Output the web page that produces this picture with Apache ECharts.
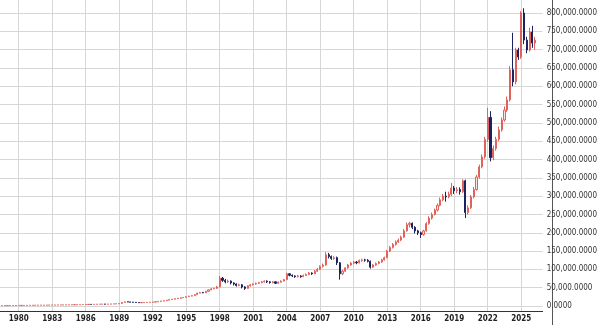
<!DOCTYPE html>
<html>
<head>
<meta charset="utf-8">
<script src="https://cdn.jsdelivr.net/npm/echarts@6/dist/echarts.min.js"></script>
<style>
html,body{margin:0;padding:0;background:#fff;}
#c{width:600px;height:325px;}
</style>
</head>
<body>
<div id="c"></div>
<script>
// Quarterly candles: first quarter and count
const startYear = 1978, startQuarter = 3;
// rows: [open, close, low, high]
const ohlc = [
[900,1000,800,1100],[1000,1100,950,1200],
[1100,1200,1050,1300],[1200,1300,1150,1400],[1300,1350,1250,1450],[1350,1450,1300,1550],
[1450,1550,1400,1650],[1550,1650,1500,1750],[1650,1700,1600,1800],[1700,1800,1650,1900],
[1800,1900,1750,2000],[1900,1950,1850,2050],[1950,2050,1900,2150],[2050,2100,2000,2200],
[2100,2200,2050,2300],[2200,2300,2150,2400],[2300,2400,2250,2500],[2400,2500,2350,2600],
[2500,2600,2450,2700],[2600,2700,2550,2800],[2700,2800,2650,2900],[2800,2900,2750,3000],
[2900,3000,2850,3100],[3000,3150,2950,3250],[3150,3300,3100,3400],[3300,3400,3250,3500],
[3400,3500,3350,3600],[3500,3700,3450,3800],[3700,3900,3650,4000],[3900,4000,3850,4100],
[4000,4200,3950,4350],[4200,4400,4150,4500],[4400,4300,4200,4500],[4300,4600,4250,4700],
[4600,4800,4550,4950],[4800,5000,4750,5200],[5000,5200,4950,5400],[5200,5000,4800,5300],
[5000,5200,4950,5350],[5200,5500,5150,5650],[5500,5800,5450,5950],[5800,6000,5750,6200],
[6000,6500,5900,6800],[6500,9500,6400,10000],[9500,11500,9300,12000],[11500,11000,10600,11800],
[11000,10500,10000,11300],[10500,10000,9600,10800],[10000,9500,9100,10200],[9500,9000,8700,9700],
[9000,9200,8800,9500],[9200,9500,9000,9800],[9500,9800,9300,10100],[9800,10200,9600,10500],
[10200,10800,10000,11100],[10800,11500,10600,11900],[11500,12500,11300,12900],[12500,13500,12300,14000],
[13500,14500,13200,15000],[14500,16000,14200,16500],[16000,17500,15700,18000],[17500,18500,17200,19200],
[18500,20000,18200,20800],[20000,21000,19600,21800],[21000,22500,20600,23300],[22500,23500,22000,24500],
[23500,25500,23000,26500],[25500,27000,25000,28000],[27000,28000,26500,29500],[28000,31000,27500,32500],
[31000,35000,30500,36500],[35000,37000,34500,38500],[37000,36000,35000,38500],[36000,40000,35500,41500],
[40000,44000,39500,45500],[44000,47000,43500,48500],[47000,48000,46000,50000],[48000,52000,47000,55000],
[52000,76000,51000,82000],[76000,70000,66000,79000],[70000,66000,62000,74000],[66000,68000,63000,72000],
[68000,63000,59000,70000],[63000,60000,56000,65000],[60000,56000,53000,62000],[56000,58000,54000,61000],
[58000,52000,48000,60000],[52000,48000,44000,54000],[48000,55000,47000,57000],[55000,58000,53000,60000],
[58000,60000,56000,62000],[60000,62000,58000,64000],[62000,64000,60000,66000],[64000,66000,62000,68000],
[66000,68000,64000,70000],[68000,66000,63000,70000],[66000,64000,61000,68000],[64000,66000,62000,68000],
[66000,62000,60000,67000],[62000,65000,61000,67000],[65000,68000,64000,70000],[68000,72000,67000,74000],
[72000,88000,71000,91000],[88000,84000,81000,89000],[84000,82000,79000,86000],[82000,80000,77000,84000],
[80000,82000,78000,85000],[82000,80000,77000,84000],[80000,83000,79000,86000],[83000,86000,82000,89000],
[86000,90000,84000,93000],[90000,88000,85000,92000],[88000,95000,87000,98000],[95000,100000,93000,104000],
[100000,108000,98000,111000],[108000,112000,105000,116000],[112000,140000,110000,147000],[140000,135000,130000,145000],
[135000,130000,126000,138000],[130000,132000,126000,136000],[132000,118000,112000,135000],[118000,88000,72000,120000],
[88000,95000,84000,98000],[95000,104000,93000,106000],[104000,112000,102000,115000],[112000,117000,110000,120000],
[117000,120000,114000,123000],[120000,118000,114000,123000],[118000,124000,116000,127000],[124000,126000,121000,129000],
[126000,125000,121000,129000],[125000,122000,119000,128000],[122000,106000,102000,124000],[106000,112000,104000,115000],
[112000,116000,110000,119000],[116000,120000,114000,123000],[120000,126000,118000,129000],[126000,132000,124000,135000],
[132000,150000,130000,153000],[150000,160000,147000,164000],[160000,168000,157000,172000],[168000,175000,165000,179000],
[175000,180000,172000,184000],[180000,188000,177000,192000],[188000,205000,186000,210000],[205000,222000,203000,228000],
[222000,226000,214000,230000],[226000,215000,210000,228000],[215000,205000,198000,218000],[205000,200000,194000,208000],
[200000,195000,186000,203000],[195000,205000,192000,208000],[205000,225000,203000,229000],[225000,240000,222000,245000],
[240000,250000,236000,255000],[250000,262000,247000,266000],[262000,275000,258000,280000],[275000,290000,272000,296000],
[290000,300000,286000,306000],[300000,298000,285000,312000],[298000,305000,294000,312000],[305000,322000,300000,336000],
[322000,315000,306000,328000],[315000,318000,308000,325000],[318000,312000,304000,324000],[312000,342000,309000,346000],
[342000,255000,240000,345000],[255000,268000,250000,275000],[268000,298000,265000,303000],[298000,318000,294000,325000],
[318000,352000,315000,358000],[352000,380000,348000,386000],[380000,407000,376000,414000],[407000,455000,402000,462000],
[455000,515000,448000,541000],[515000,405000,395000,532000],[405000,430000,398000,438000],[430000,455000,424000,462000],
[455000,481000,450000,490000],[481000,508000,476000,515000],[508000,535000,503000,545000],[535000,563000,530000,572000],
[563000,645000,558000,655000],[645000,612000,600000,746000],[612000,699000,605000,705000],[699000,680000,672000,705000],
[680000,800000,675000,805000],[800000,726000,715000,813000],[726000,699000,690000,735000],[699000,748000,695000,760000],
[748000,718000,705000,765000],[718000,726000,700000,735000]
];
const yearTicks = [1980,1983,1986,1989,1992,1995,1998,2001,2004,2007,2010,2013,2016,2019,2022,2025];
const valueTicks = [0,50000,100000,150000,200000,250000,300000,350000,400000,450000,500000,550000,600000,650000,700000,750000,800000];

const data = ohlc.map((r, i) => {
  const qi = (startQuarter - 1) + i;
  const t = startYear + Math.floor(qi / 4) + (qi % 4) / 4;
  return [t, r[0], r[1], r[2], r[3]];
});

const chart = echarts.init(document.getElementById('c'), null, {renderer: 'canvas'});
const fnt = "'Liberation Sans Narrow','DejaVu Sans Condensed','Liberation Sans',sans-serif";
chart.setOption({
  animation: false,
  backgroundColor: '#ffffff',
  grid: {left: 0, right: 48, top: 0, bottom: 14, containLabel: false},
  xAxis: {
    type: 'value',
    min: 1978.327, max: 2026.92,
    axisLine: {show: true, onZero: false, lineStyle: {color: '#333', width: 1}},
    axisTick: {show: false, customValues: yearTicks},
    axisLabel: {customValues: yearTicks, formatter: v => String(Math.round(v)), fontFamily: fnt, fontSize: 8, fontWeight: 'bold', color: '#222', margin: 4},
    splitLine: {show: true, lineStyle: {color: '#d6d6d6', width: 1}}
  },
  yAxis: {
    type: 'value',
    position: 'right',
    min: -13650, max: 835500,
    axisLine: {show: false},
    axisTick: {show: false, customValues: valueTicks},
    axisLabel: {customValues: valueTicks, formatter: v => v.toLocaleString('en-US', {minimumFractionDigits: 4, maximumFractionDigits: 4}), fontFamily: fnt, fontSize: 8, color: '#333', margin: 4},
    splitLine: {show: true, lineStyle: {color: '#d6d6d6', width: 1}}
  },
  series: [{
    type: 'candlestick',
    data: data,
    barWidth: 1.6,
    itemStyle: {
      color: '#fbe4e1', borderColor: '#e0625a',
      color0: '#1c2160', borderColor0: '#1c2160',
      borderWidth: 1
    }
  }],
  graphic: [{type: 'line', shape: {x1: 552.5, y1: 0, x2: 552.5, y2: 325}, style: {stroke: '#555', lineWidth: 1}}]
});
</script>
</body>
</html>
